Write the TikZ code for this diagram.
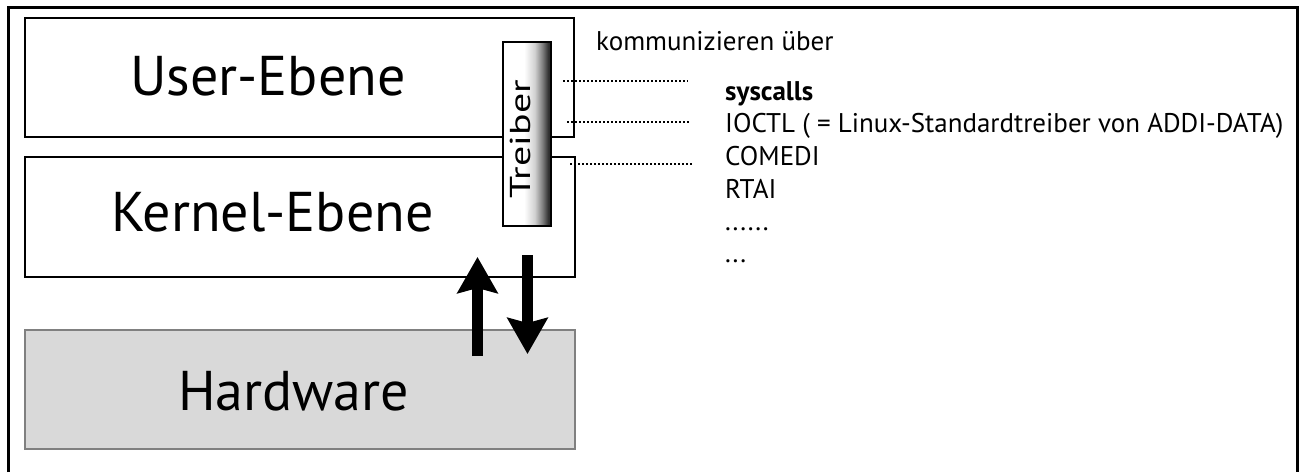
\documentclass[tikz,border=0pt]{standalone}
\usepackage{fontspec}
\setmainfont{PT Sans}
\usetikzlibrary{arrows.meta}

% white on the left, fading to dark grey at the right edge
\pgfdeclarehorizontalshading{driverfade}{100bp}{%
  color(0bp)=(white); color(25bp)=(white); color(47bp)=(white);
  color(58bp)=(black!18); color(66bp)=(black!50); color(72bp)=(black!80);
  color(75bp)=(black!85); color(100bp)=(black!85)}

\tikzset{
  frame/.style={line width=3pt},
  layer/.style={draw=black, line width=2.2pt, fill=white, inner sep=0pt},
  hwlayer/.style={draw=black!50, line width=2.4pt, fill=black!15, inner sep=0pt},
  driverbox/.style={draw=black, line width=2pt, shading=driverfade, inner sep=0pt},
  biglabel/.style={anchor=base west, inner sep=0pt, font=\fontsize{56}{60}\selectfont},
  drvlabel/.style={rotate=90, anchor=base, inner sep=0pt, font=\fontsize{40}{44}\selectfont},
  listtext/.style={anchor=base west, inner sep=0pt, font=\fontsize{27}{30}\selectfont},
  leader/.style={line width=2pt, dash pattern=on 2pt off 2pt},
  flow/.style={line width=11pt, -{Stealth[length=36pt, width=40pt, inset=5pt]}}
}

\begin{document}
\begin{tikzpicture}[x=1pt, y=-1pt]
\useasboundingbox (0,0) rectangle (1299,472);

% outer frame (open at the bottom)
\draw[frame] (8,472) -- (8,7) -- (1297,7) -- (1297,472);

% layers
\node[layer, minimum width=549, minimum height=119] (user) at (299.5,77.5) {};
\node[layer, minimum width=550, minimum height=120] (kernel) at (300,217) {};
\node[hwlayer, minimum width=550, minimum height=119] (hw) at (300,389.5) {};

\node[biglabel] (userlbl) at (130,95) {User-Ebene};
\node[biglabel] (kernellbl) at (111,231) {Kernel-Ebene};
\node[biglabel] (hwlbl) at (178,410) {Hardware};

% driver bar across user and kernel level
\node[driverbox, minimum width=48, minimum height=184] (driver) at (527,134) {};
\node[drvlabel] (driverlbl) at (530,139) {\scalebox{1}[0.72]{Treiber}};

% data flow between kernel and hardware
\coordinate (upfrom) at (477.5,356);
\coordinate (upto) at (477.5,257);
\coordinate (downfrom) at (527.5,255);
\coordinate (downto) at (527.5,354);
\draw[flow] (upfrom) -- (upto);
\draw[flow] (downfrom) -- (downto);

% interface list
\node[listtext] (head) at (596,50) {kommunizieren über};
\node[listtext] (sys) at (725,100) {\bfseries syscalls};
\node[listtext] (ioctl) at (725,132.5) {IOCTL ( = Linux-Standardtreiber von ADDI-DATA)};
\node[listtext] (comedi) at (725,165.5) {COMEDI};
\node[listtext] (rtai) at (725,198) {RTAI};
\node[listtext] (more) at (725,230) {......};
\node[listtext] (etc) at (725,262) {...};

% leader lines from the driver to the list
\coordinate (l1a) at (563,81);  \coordinate (l1b) at (688,81);
\coordinate (l2a) at (567,122); \coordinate (l2b) at (690,122);
\coordinate (l3a) at (570,164); \coordinate (l3b) at (693,164);
\draw[leader] (l1a) -- (l1b);
\draw[leader] (l2a) -- (l2b);
\draw[leader] (l3a) -- (l3b);
\end{tikzpicture}
\end{document}
